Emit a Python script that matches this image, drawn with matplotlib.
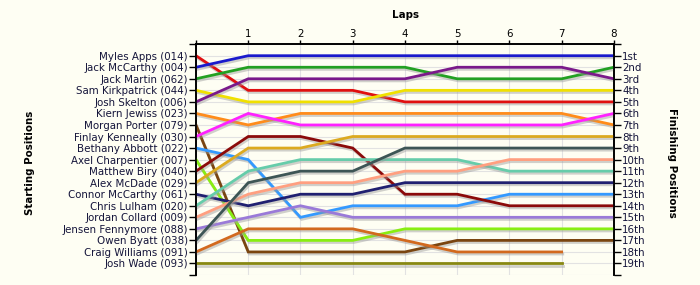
import matplotlib
matplotlib.use("Agg")
import matplotlib.pyplot as plt
import matplotlib.patheffects as pe

drivers = ["Myles Apps (014)", "Jack McCarthy (004)", "Jack Martin (062)", "Sam Kirkpatrick (044)",
           "Josh Skelton (006)", "Kiern Jewiss (023)", "Morgan Porter (079)", "Finlay Kenneally (030)",
           "Bethany Abbott (022)", "Axel Charpentier (007)", "Matthew Biry (040)", "Alex McDade (029)",
           "Connor McCarthy (061)", "Chris Lulham (020)", "Jordan Collard (009)", "Jensen Fennymore (088)",
           "Owen Byatt (038)", "Craig Williams (091)", "Josh Wade (093)"]

# positions at lap 0..8 (shorter list = did not complete the last lap)
myles_apps = [1, 4, 4, 4, 5, 5, 5, 5, 5]
jack_mccarthy = [2, 1, 1, 1, 1, 1, 1, 1, 1]
jack_martin = [3, 2, 2, 2, 2, 3, 3, 3, 2]
sam_kirkpatrick = [4, 5, 5, 5, 4, 4, 4, 4, 4]
josh_skelton = [5, 3, 3, 3, 3, 2, 2, 2, 3]
kiern_jewiss = [6, 7, 6, 6, 6, 6, 6, 6, 7]
morgan_porter = [7, 18, 18, 18, 18, 17, 17, 17, 17]
finlay_kenneally = [8, 6, 7, 7, 7, 7, 7, 7, 6]
bethany_abbott = [9, 10, 15, 14, 14, 14, 13, 13, 13]
axel_charpentier = [10, 17, 17, 17, 16, 16, 16, 16, 16]
matthew_biry = [11, 8, 8, 9, 13, 13, 14, 14, 14]
alex_mcdade = [12, 9, 9, 8, 8, 8, 8, 8, 8]
connor_mccarthy = [13, 14, 13, 13, 12, 12, 12, 12, 12]
chris_lulham = [14, 11, 10, 10, 10, 10, 11, 11, 11]
jordan_collard = [15, 13, 12, 12, 11, 11, 10, 10, 10]
jensen_fennymore = [16, 15, 14, 15, 15, 15, 15, 15, 15]
owen_byatt = [17, 12, 11, 11, 9, 9, 9, 9, 9]
craig_williams = [18, 16, 16, 16, 17, 18, 18, 18]
josh_wade = [19, 19, 19, 19, 19, 19, 19, 19]

series = [myles_apps, jack_mccarthy, jack_martin, sam_kirkpatrick, josh_skelton, kiern_jewiss,
          morgan_porter, finlay_kenneally, bethany_abbott, axel_charpentier, matthew_biry, alex_mcdade,
          connor_mccarthy, chris_lulham, jordan_collard, jensen_fennymore, owen_byatt, craig_williams,
          josh_wade]

colors = ["#e01010", "#1a1acc", "#22a022", "#f0e000", "#7a1a8a", "#ff8c1a", "#7a4510", "#ff22ff",
          "#3399ff", "#88ee11", "#8b0a0a", "#dcaa20", "#202070", "#66ccaa", "#ff9f80", "#9a7ad8",
          "#3d5555", "#d2691e", "#888811"]

finish_labels = ["1st", "2nd", "3rd", "4th", "5th", "6th", "7th", "8th", "9th", "10th", "11th",
                 "12th", "13th", "14th", "15th", "16th", "17th", "18th", "19th"]
laps = [1, 2, 3, 4, 5, 6, 7, 8]

bg = "#fefef3"
txt = "#14143a"
fs = 7.4
fig = plt.figure(figsize=(7, 2.85), dpi=100, facecolor=bg)
ax = fig.add_axes([0.28, 0.035, 0.597, 0.81])
ax.set_facecolor(bg)

for s, c in zip(series, colors):
    ax.plot(range(len(s)), s, color=c, lw=2.0, solid_joinstyle="miter", zorder=3,
            path_effects=[pe.SimpleLineShadow(offset=(0.8, -1.5), shadow_color="#999999", alpha=0.45),
                          pe.Normal()])

ax.set_xlim(0, 8)
ax.set_ylim(20, 0)
ax.set_yticks(range(0, 21))
ax.set_yticklabels([""] + drivers + [""], fontsize=fs, color=txt)
ax.tick_params(axis="y", direction="out", length=5, width=1, pad=1)
ax.xaxis.tick_top()
ax.set_xticks([0] + laps)
ax.set_xticklabels([""] + [str(l) for l in laps], fontsize=fs, color="black")
ax.tick_params(axis="x", direction="out", length=3, width=1, pad=1)
ax.grid(True, color="#e2e2e2", lw=0.8, zorder=0)
ax.spines["bottom"].set_visible(False)
for sp in ["left", "top", "right"]:
    ax.spines[sp].set_linewidth(1.2)

ax2 = ax.twinx()
ax2.set_ylim(20, 0)
ax2.set_yticks(range(0, 21))
ax2.set_yticklabels([""] + finish_labels + [""], fontsize=fs, color=txt)
ax2.tick_params(axis="y", direction="out", length=5, width=1, pad=1)
ax2.spines["bottom"].set_visible(False)
for sp in ["left", "top", "right"]:
    ax2.spines[sp].set_linewidth(1.2)

fig.text(0.579, 0.947, "Laps", ha="center", va="center", fontsize=fs, fontweight="bold")
fig.text(0.043, 0.43, "Starting Positions", ha="center", va="center", rotation=90,
         fontsize=fs, fontweight="bold")
fig.text(0.96, 0.43, "Finishing Positions", ha="center", va="center", rotation=270,
         fontsize=fs, fontweight="bold")

fig.savefig("out.png", dpi=100, facecolor=bg)
